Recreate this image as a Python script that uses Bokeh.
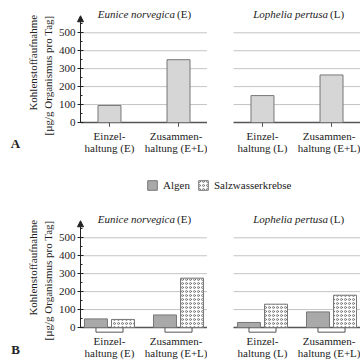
import numpy as np
from bokeh.plotting import figure
from bokeh.layouts import column, row
from bokeh.models import FixedTicker, Arrow, NormalHead, Range1d, Legend
from bokeh.core.properties import value
from bokeh.embed import file_html
from bokeh.resources import INLINE

# ---------------- data ----------------
species = ["Eunice norvegica", "Lophelia pertusa"]
species_abbr = ["(E)", "(L)"]
cats_E = ["Einzel-\nhaltung (E)", "Zusammen-\nhaltung (E+L)"]
cats_L = ["Einzel-\nhaltung (L)", "Zusammen-\nhaltung (E+L)"]
a_E = [95, 350]
a_L = [150, 265]
b_E_algen = [48, 70]
b_E_krebse = [45, 275]
b_L_algen = [28, 87]
b_L_krebse = [130, 180]
y_ticks = [0, 100, 200, 300, 400, 500]
series = ["Algen", "Salzwasserkrebse"]
ylabel1 = "Kohlenstoffaufnahme"
ylabel2 = "[µg/g Organismus pro Tag]"
panel_letters = ["A", "B"]

FONT = "Liberation Serif"
FS = "11px"
TXT = "#222222"
GRID = "#c4c4c4"
AXC = "#555555"
BAR_LINE = "#777777"

X0, X1 = -0.42, 1.42          # subpanel data extent
PANEL_W = 127                 # px of a subpanel
PPU = PANEL_W / (X1 - X0)     # px per x unit
LEFT_PAD = 80                 # px left of left subpanel (labels)
GAP = 26                      # px between subpanels
S = 89.7 / 500                # px per y unit
DODGE = 0.196


def base_fig(left, cats, title, abbr, row_h, base_px, title_px, letter, letter_px):
    pad = LEFT_PAD if left else GAP
    w = pad + PANEL_W
    y1 = base_px / S
    y0 = -(row_h - base_px) / S
    p = figure(width=w, height=row_h,
               x_range=Range1d(X0 - pad / PPU, X1), y_range=Range1d(y0, y1),
               output_backend="svg", toolbar_location=None,
               min_border_left=0, min_border_right=0,
               min_border_top=0, min_border_bottom=0)
    p.outline_line_color = None
    p.background_fill_color = None
    p.border_fill_color = None
    p.grid.visible = False
    gt = np.array(y_ticks[1:])
    p.segment(x0=np.full(len(gt), X0), y0=gt, x1=np.full(len(gt), X1), y1=gt,
              line_color=GRID, line_width=1)
    # x axis (tick labels only)
    idx = list(range(len(cats)))
    p.xaxis.fixed_location = -36
    p.xaxis.ticker = FixedTicker(ticks=idx)
    p.xaxis.major_label_overrides = {i: c for i, c in zip(idx, cats)}
    p.xaxis.axis_line_color = None
    p.xaxis.major_tick_line_color = None
    p.xaxis.minor_tick_line_color = None
    p.xaxis.major_tick_in = 0
    p.xaxis.major_tick_out = 0
    p.xaxis.minor_tick_in = 0
    p.xaxis.minor_tick_out = 0
    p.xaxis.major_label_standoff = 1
    p.xaxis.major_label_text_font = FONT
    p.xaxis.major_label_text_font_size = FS
    p.xaxis.major_label_text_line_height = 1.0
    p.xaxis.major_label_text_color = TXT
    if left:
        p.yaxis.fixed_location = X0
        p.yaxis.ticker = FixedTicker(ticks=y_ticks,
                                     minor_ticks=[t + 50 for t in y_ticks])
        p.yaxis.axis_line_color = None
        p.yaxis.major_tick_in = 3
        p.yaxis.major_tick_out = 3
        p.yaxis.minor_tick_in = 2
        p.yaxis.minor_tick_out = 0
        p.yaxis.major_tick_line_color = TXT
        p.yaxis.minor_tick_line_color = TXT
        p.yaxis.major_label_standoff = 2
        p.yaxis.major_label_text_font = FONT
        p.yaxis.major_label_text_font_size = FS
        p.yaxis.major_label_text_color = TXT
        p.add_layout(Arrow(x_start=X0, y_start=0, x_end=X0, y_end=595,
                           line_color=TXT, line_width=1,
                           end=NormalHead(size=6, fill_color=TXT,
                                          line_color=TXT)))
        p.text(x=[X0 - 48 / PPU, X0 - 33 / PPU], y=[600, 596],
               text=[ylabel1, ylabel2], angle=np.pi / 2,
               text_align="right", text_baseline="middle",
               text_font=value(FONT), text_font_size=FS, text_color=TXT)
        p.text(x=[X0 - 65 / PPU], y=[-(letter_px - base_px) / S],
               text=[letter], text_align="center", text_baseline="middle",
               text_font=value(FONT), text_font_size="13px",
               text_font_style="bold", text_color=TXT)
    else:
        p.yaxis.visible = False
    # title
    xc = (X0 + X1) / 2
    ty = (base_px - title_px) / S
    p.text(x=[xc], y=[ty], text=[title], x_offset=31,
           text_align="right", text_baseline="middle",
           text_font=value(FONT), text_font_size=FS,
           text_font_style="italic", text_color=TXT)
    p.text(x=[xc], y=[ty], text=[abbr], x_offset=33,
           text_align="left", text_baseline="middle",
           text_font=value(FONT), text_font_size=FS, text_color=TXT)
    # baseline
    p.segment(x0=[X0], y0=[0], x1=[X1], y1=[0], line_color=AXC, line_width=1.5)
    return p


def panel_a(left, cats, vals, title, abbr):
    p = base_fig(left, cats, title, abbr, 165, 122, 13, panel_letters[0], 143)
    xs = np.arange(len(vals))
    p.vbar(x=xs, top=vals, width=0.333, fill_color="#d6d6d6",
           line_color=BAR_LINE, line_width=1)
    p.segment(x0=xs, y0=np.zeros(len(xs)), x1=xs, y1=np.full(len(xs), -24),
              line_color=AXC, line_width=1)
    return p


def panel_b(left, cats, algen, krebse, title, abbr):
    p = base_fig(left, cats, title, abbr, 155, 122, 13, panel_letters[1], 144)
    xs = np.arange(len(algen))
    p.vbar(x=xs - DODGE, top=algen, width=0.333, fill_color="#a9a9a9",
           line_color=BAR_LINE, line_width=1)
    p.vbar(x=xs + DODGE, top=krebse, width=0.333, fill_color="white",
           line_color=BAR_LINE, line_width=1, hatch_pattern="o",
           hatch_scale=4, hatch_weight=0.8, hatch_color="#666666")
    n = len(xs)
    p.segment(x0=xs - DODGE, y0=np.full(n, -26), x1=xs + DODGE,
              y1=np.full(n, -26), line_color=AXC, line_width=1)
    p.segment(x0=xs - DODGE, y0=np.zeros(n), x1=xs - DODGE,
              y1=np.full(n, -26), line_color=AXC, line_width=1)
    p.segment(x0=xs + DODGE, y0=np.zeros(n), x1=xs + DODGE,
              y1=np.full(n, -26), line_color=AXC, line_width=1)
    return p


pAE = panel_a(True, cats_E, a_E, species[0], species_abbr[0])
pAL = panel_a(False, cats_L, a_L, species[1], species_abbr[1])
pBE = panel_b(True, cats_E, b_E_algen, b_E_krebse, species[0], species_abbr[0])
pBL = panel_b(False, cats_L, b_L_algen, b_L_krebse, species[1], species_abbr[1])

# legend strip
pl = figure(width=LEFT_PAD + GAP + 2 * PANEL_W, height=40,
            x_range=Range1d(0, 1), y_range=Range1d(0, 1),
            output_backend="svg", toolbar_location=None,
            min_border_left=0, min_border_right=0, min_border_top=0,
            min_border_bottom=0)
pl.axis.visible = False
pl.grid.visible = False
pl.outline_line_color = None
pl.border_fill_color = None
pl.background_fill_color = None
r1 = pl.vbar(x=[5], top=[1], width=0.1, fill_color="#a9a9a9",
             line_color=BAR_LINE)
r2 = pl.vbar(x=[5], top=[1], width=0.1, fill_color="white",
             line_color=BAR_LINE, hatch_pattern="o", hatch_scale=4,
             hatch_weight=0.8, hatch_color="#666666")
leg = Legend(items=[(series[0], [r1]), (series[1], [r2])], location=(146, 14),
             orientation="horizontal", glyph_width=12, glyph_height=12,
             label_text_font=FONT, label_text_font_size=FS,
             label_text_color=TXT, border_line_color=None,
             background_fill_alpha=0, spacing=7, label_standoff=5,
             padding=0, margin=0)
pl.add_layout(leg)

layout = column(row(pAE, pAL), pl, row(pBE, pBL))
open("out.html", "w").write(file_html(layout, INLINE))
